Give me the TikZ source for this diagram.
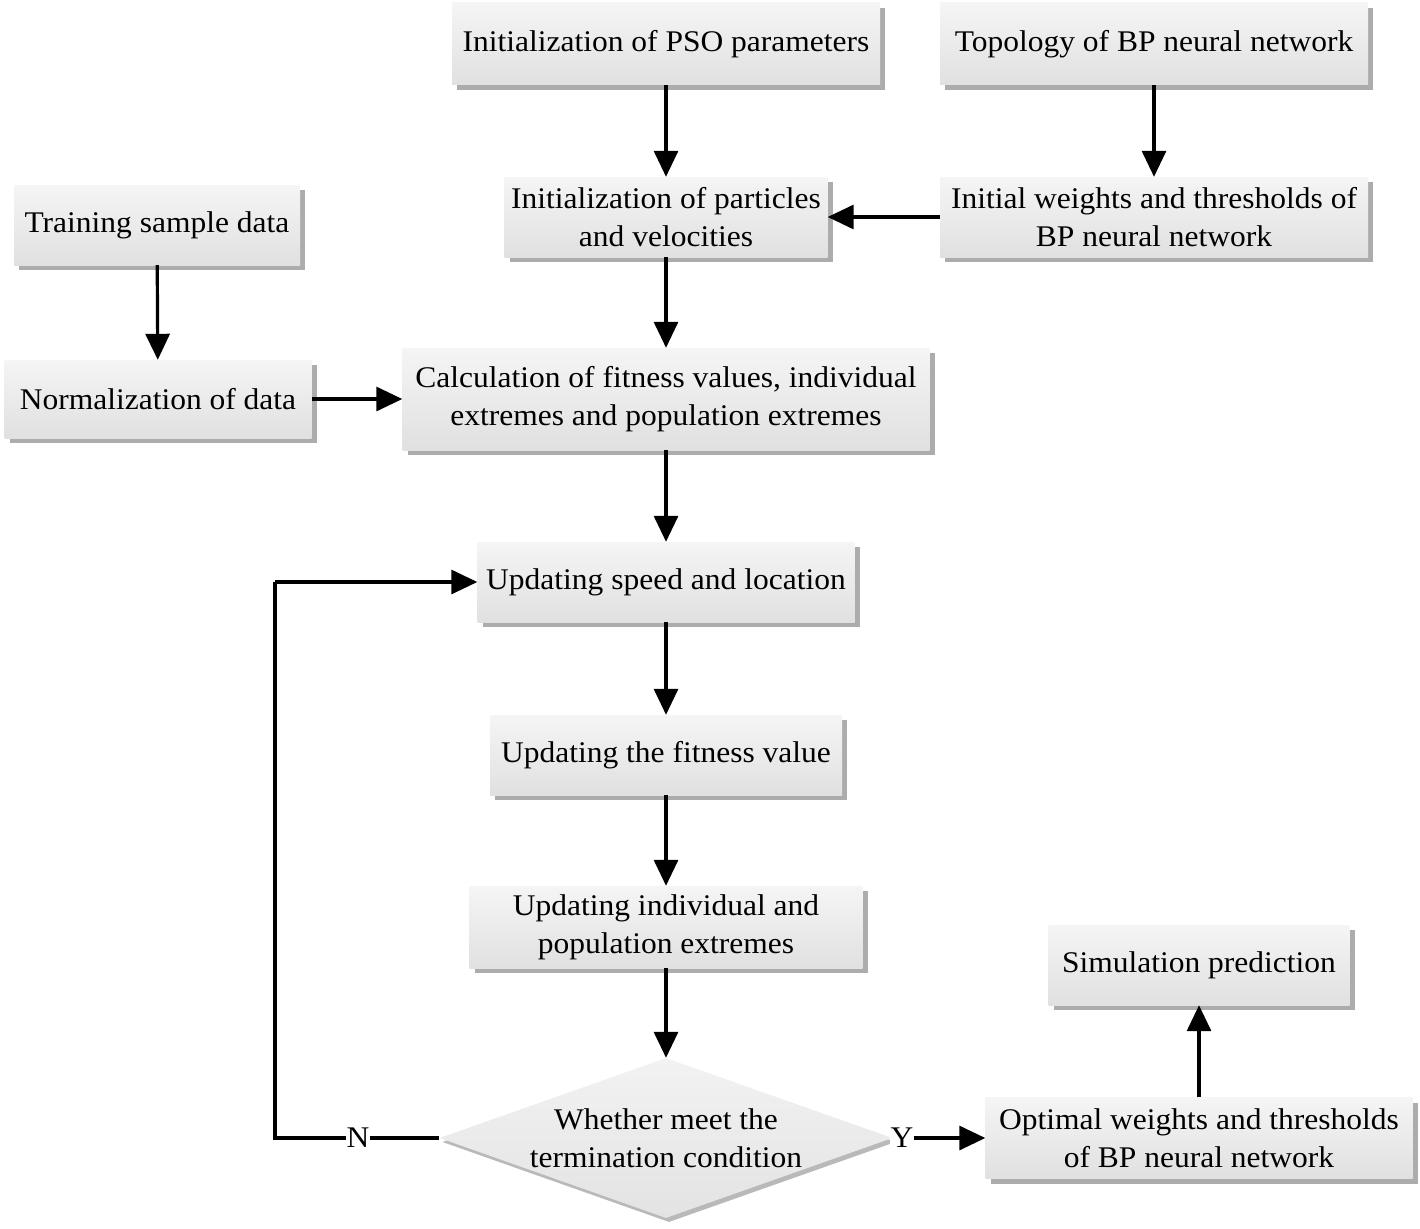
\documentclass[tikz,border=0pt]{standalone}
\usepackage{fontspec}
\setmainfont{Liberation Serif}[FakeStretch=1.05]
\usetikzlibrary{arrows.meta,shapes.geometric,shadows}
\begin{document}
\begin{tikzpicture}[x=1pt,y=-1pt,
  box/.style={rectangle, inner sep=0pt, align=center, top color=gray!8, bottom color=gray!24,
    font=\fontsize{30}{38}\selectfont,
    drop shadow={shadow xshift=5pt, shadow yshift=-5pt, fill=gray!65, opacity=1}},
  dia/.style={diamond, inner sep=0pt, minimum width=453pt, minimum height=160pt, top color=gray!10, bottom color=gray!22,
    drop shadow={shadow xshift=3pt, shadow yshift=-4pt, fill=gray!55, opacity=1}},
  txt/.style={align=center, font=\fontsize{30}{38}\selectfont, inner sep=0pt},
  lab/.style={fill=white, inner sep=1pt, font=\fontsize{30}{34}\selectfont},
  arr/.style={line width=3.2pt, -{Triangle[length=26pt,width=24pt]}},
  ln/.style={line width=3.2pt}]
\useasboundingbox (0,0) rectangle (1420,1228);
\node[box, minimum width=428pt, minimum height=82pt] (pso) at (666,44) {Initialization of PSO parameters};
\node[box, minimum width=428pt, minimum height=82pt] (topo) at (1154,44) {Topology of BP neural network};
\node[box, minimum width=323pt, minimum height=80pt] (part) at (666,217) {Initialization of particles\\and velocities};
\node[box, minimum width=428pt, minimum height=80pt] (initw) at (1154,217) {Initial weights and thresholds of\\BP neural network};
\node[box, minimum width=286pt, minimum height=80pt] (train) at (157,225) {Training sample data};
\node[box, minimum width=307pt, minimum height=78pt] (norm) at (158,399) {Normalization of data};
\node[box, minimum width=527pt, minimum height=102pt] (calc) at (666,399) {Calculation of fitness values, individual\\extremes and population extremes};
\node[box, minimum width=377pt, minimum height=80pt] (speed) at (666,582) {Updating speed and location};
\node[box, minimum width=352pt, minimum height=80pt] (fit) at (666,755) {Updating the fitness value};
\node[box, minimum width=393pt, minimum height=82pt] (indiv) at (666,927) {Updating individual and\\population extremes};
\node[dia] (dec) at (666,1138) {};
\node[txt] (dectxt) at (666,1138) {Whether meet the\\termination condition};
\node[box, minimum width=427pt, minimum height=81pt] (opt) at (1199,1138) {Optimal weights and thresholds\\of BP neural network};
\node[box, minimum width=301pt, minimum height=80pt] (sim) at (1199,965) {Simulation prediction};
\coordinate (c1) at (275,1138);
\coordinate (c2) at (275,582);

\draw[arr] (pso) -- (part);
\draw[arr] (topo) -- (initw);
\draw[arr] (initw) -- (part);
\draw[arr] (part) -- (calc);
\draw[arr] (train) -- (norm);
\draw[arr] (norm) -- (calc);
\draw[arr] (calc) -- (speed);
\draw[arr] (speed) -- (fit);
\draw[arr] (fit) -- (indiv);
\draw[arr] (indiv) -- (dec.north);
\draw[ln] (dec.west) -- (c1) -- (c2);
\draw[arr] (c2) -- (speed.west);
\node[lab] (nlab) at (358,1138) {N};
\draw[arr] (dec.east) -- (opt.west);
\node[lab] (ylab) at (902,1138) {Y};
\draw[arr] (opt) -- (sim);
\end{tikzpicture}
\end{document}
